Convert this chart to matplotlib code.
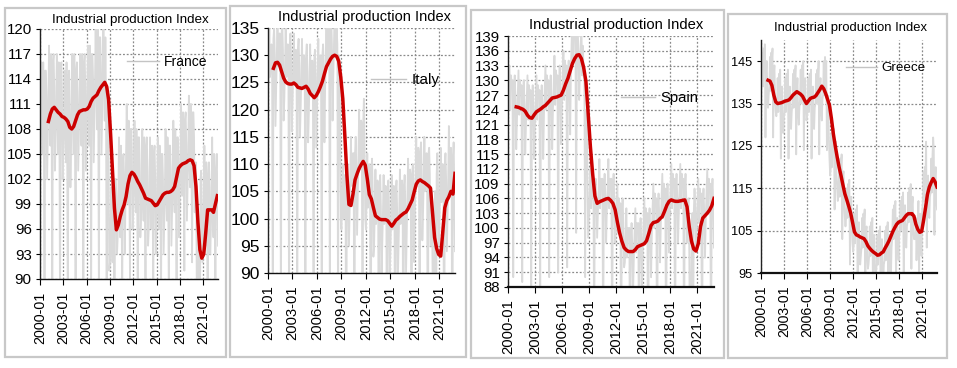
import numpy as np
import matplotlib
matplotlib.use("Agg")
import matplotlib.pyplot as plt
from matplotlib.patches import Rectangle
from matplotlib.lines import Line2D

plt.rcParams['font.family'] = ['Liberation Sans', 'DejaVu Sans']

# ---------------- DATA ----------------
months = [f"{y}-{m:02d}" for y in range(2000, 2023) for m in range(1, 13)]
x_labels = ["2000-01", "2003-01", "2006-01", "2009-01", "2012-01", "2015-01", "2018-01", "2021-01"]
title_text = "Industrial production Index"
countries = ["France", "Italy", "Spain", "Greece"]

france_raw = [
    106,110,116,109,105,116,108,84,115,115,112,102,
    107,112,118,110,106,117,109,85,116,117,113,103,
    106,111,117,109,105,116,108,84,115,116,112,102,
    105,109,115,108,104,116,107,83,114,115,111,101,
    106,110,117,110,105,117,109,84,115,116,112,103,
    107,111,117,110,106,117,109,85,116,117,113,103,
    107,112,118,111,106,118,110,86,117,117,114,104,
    109,114,120,113,108,120,111,87,119,119,116,105,
    110,115,121,113,109,119,111,86,113,110,104,91,
    92,95,101,95,92,100,96,75,102,102,100,93,
    95,99,107,98,95,106,100,87,104,105,102,93,
    99,104,111,102,99,109,103,90,108,108,105,96,
    98,103,109,101,98,108,102,89,107,107,104,95,
    97,101,108,100,97,107,101,88,106,107,103,94,
    96,100,107,99,96,106,100,88,105,106,102,93,
    96,100,107,99,96,106,100,87,105,105,102,93,
    97,101,108,100,97,107,101,88,106,106,103,94,
    98,102,109,101,98,108,102,89,107,107,104,95,
    100,104,111,103,100,110,104,91,109,110,106,97,
    101,105,112,104,101,111,105,92,110,110,107,98,
    101,104,92,70,80,95,96,80,102,103,99,92,
    95,98,106,97,94,104,99,86,102,104,101,93,
    96,99,107,98,95,105,100,87,103,105,101,94,
]
france_trend_start = "2001-02"
france_trend = [
    108.9,109.8,110.4,110.6,110.3,110.0,109.8,109.5,109.4,109.2,108.9,108.2,
    108.0,108.3,109.0,109.7,110.1,110.2,110.3,110.3,110.4,110.7,111.3,111.7,
    111.9,112.1,112.6,113.0,113.3,113.6,113.1,111.5,107.5,103.0,98.5,95.9,
    96.5,97.5,98.3,98.9,99.9,101.4,102.4,102.8,102.6,102.2,101.7,101.3,
    100.8,100.3,99.7,99.6,99.5,99.4,99.1,98.8,98.9,99.3,99.7,100.1,
    100.3,100.4,100.4,100.5,100.7,101.1,102.2,103.3,103.6,103.8,103.9,104.0,
    104.2,104.3,104.2,103.6,101.1,96.8,93.5,92.5,93.0,95.5,98.3,98.3,
    98.3,98.0,99.0,100.0,
]

italy_raw = [
    122,128,135,126,128,132,131,77,133,135,130,117,
    124,130,137,128,130,134,132,78,134,136,131,118,
    122,128,135,126,128,132,130,76,132,134,129,116,
    121,127,134,125,127,131,129,75,131,133,128,115,
    120,126,133,124,126,130,128,74,130,132,127,114,
    119,125,132,123,125,129,127,73,129,131,126,113,
    120,126,133,124,126,130,128,74,130,132,127,114,
    124,130,138,128,130,135,133,78,135,137,132,118,
    126,132,139,130,131,135,132,79,130,128,118,100,
    98,103,110,100,103,108,108,60,108,110,106,95,
    101,108,115,106,108,112,112,60,112,115,109,97,
    104,111,120,109,112,118,117,62,117,122,113,100,
    98,104,112,102,104,110,108,58,109,111,105,93,
    95,101,109,99,101,107,105,55,106,108,102,90,
    95,101,108,99,101,106,105,55,105,107,102,90,
    94,100,108,98,100,106,104,54,105,107,101,89,
    95,101,109,99,101,107,105,55,106,108,102,90,
    97,104,111,102,104,109,107,56,108,110,105,92,
    101,108,115,106,108,113,111,58,112,114,109,96,
    101,107,115,105,107,112,110,58,112,113,108,95,
    100,105,90,60,85,100,105,55,108,112,106,95,
    98,105,113,103,104,110,108,57,110,112,107,94,
    101,107,117,105,107,113,110,58,111,114,106,94,
]
italy_trend_start = "2000-09"
italy_trend = [
    127.6,128.6,128.7,128.2,127.0,125.8,125.1,124.8,124.7,124.7,124.9,124.6,
    124.1,124.0,123.9,124.1,124.3,123.8,123.0,122.6,122.2,122.6,123.3,124.2,
    125.2,126.6,127.9,128.6,129.3,129.8,130.0,129.8,128.9,126.0,122.0,115.2,
    108.0,102.6,102.4,104.5,107.1,108.2,109.2,109.9,110.5,109.8,107.3,104.4,
    103.6,102.0,100.5,100.2,99.9,99.8,99.8,99.8,99.6,99.1,98.6,99.1,
    99.7,100.0,100.4,100.7,101.0,101.2,101.8,102.6,103.4,104.9,106.3,106.9,
    107.1,106.8,106.6,106.3,106.0,105.6,101.0,96.5,94.5,93.4,93.1,97.5,
    102.0,103.3,104.0,105.0,104.5,108.3,
]

spain_raw = [
    123,128,133,124,131,129,130,90,128,131,126,116,
    122,127,132,123,130,128,129,89,127,130,125,115,
    121,126,131,122,129,127,128,88,126,129,124,114,
    121,126,131,122,129,127,128,88,126,129,124,114,
    123,128,133,124,131,129,130,90,128,131,126,116,
    124,129,135,125,132,130,131,91,129,133,127,117,
    125,131,136,126,134,132,133,92,131,134,129,119,
    132,138,143,134,141,139,140,99,138,141,136,126,
    132,137,141,131,137,131,130,90,124,123,112,98,
    102,106,112,104,108,110,110,76,108,110,106,98,
    103,108,114,104,110,109,110,74,108,111,106,97,
    104,108,114,104,110,109,110,74,108,111,106,97,
    99,104,109,99,106,104,105,68,103,106,101,92,
    93,98,104,94,100,99,100,62,98,101,96,87,
    94,99,104,95,101,100,101,63,99,102,97,88,
    96,101,106,97,104,102,103,65,101,104,99,90,
    99,104,109,100,107,105,106,67,104,107,102,93,
    101,106,111,102,109,107,108,69,106,109,104,95,
    103,108,113,104,111,109,110,71,108,111,106,97,
    103,108,113,104,111,109,110,71,108,111,106,97,
    103,106,95,72,82,95,103,70,103,108,104,96,
    100,105,110,101,108,106,107,68,105,108,103,94,
    102,107,112,103,110,108,109,70,107,110,105,96,
]
spain_trend_start = "2000-12"
spain_trend = [
    124.6,124.5,124.3,124.1,123.7,122.9,122.4,122.3,123.0,123.6,123.9,124.2,
    124.6,124.9,125.4,125.9,126.4,126.5,126.6,126.8,127.0,128.0,129.3,130.4,
    131.9,133.4,134.4,135.1,135.2,134.4,132.6,129.8,123.3,116.5,111.0,106.5,
    105.0,105.3,105.5,105.7,105.9,106.0,105.6,105.0,103.7,101.2,99.0,97.3,
    96.0,95.5,95.2,95.2,95.2,95.6,96.2,96.4,96.6,96.8,97.4,98.9,
    100.5,101.1,101.2,101.4,101.9,102.3,103.4,104.6,105.4,105.7,105.5,105.4,
    105.4,105.5,105.6,105.7,104.3,100.2,97.3,95.7,95.3,96.8,100.3,102.0,
    102.5,103.0,103.6,104.5,106.0,
]

greece_raw = [
    138,140,147,139,148,145,149,127,143,145,137,134,
    137,139,146,138,147,145,148,127,142,144,136,133,
    132,134,141,133,142,140,143,122,137,139,131,128,
    132,133,141,133,142,139,143,122,137,139,131,129,
    133,135,142,134,143,141,144,123,138,141,133,130,
    134,136,143,135,144,142,145,124,139,141,134,131,
    132,134,141,133,142,140,143,122,137,139,131,129,
    134,135,142,135,143,141,145,123,139,141,133,131,
    136,137,145,137,146,143,145,124,137,136,127,122,
    118,120,128,120,129,126,129,110,124,126,118,115,
    112,114,121,113,122,120,123,103,118,119,111,108,
    106,108,115,108,116,114,117,97,112,113,106,102,
    100,102,109,102,110,108,111,91,106,107,100,97,
    99,101,108,101,109,107,110,90,105,106,99,96,
    97,99,106,99,107,105,108,88,103,104,97,94,
    96,97,104,97,105,103,106,87,101,103,95,93,
    97,98,105,98,106,104,107,88,102,104,96,94,
    101,103,110,103,111,109,112,92,107,108,101,98,
    104,105,112,105,113,111,114,94,109,111,103,101,
    106,107,114,107,115,113,116,96,111,113,105,103,
    103,104,108,98,104,107,112,92,107,109,101,99,
    110,112,119,112,120,118,126,101,116,118,110,108,
    113,114,122,114,123,127,124,104,118,120,112,110,
]
greece_trend_start = "2000-12"
greece_trend = [
    140.5,140.3,139.3,137.0,135.4,135.0,135.1,135.2,135.4,135.6,135.7,135.9,
    136.4,137.0,137.4,137.8,137.5,137.2,136.7,135.8,135.0,135.6,136.2,136.4,
    136.5,136.9,137.6,138.3,139.1,138.5,137.4,136.0,134.6,131.5,127.9,125.0,
    122.4,120.0,118.0,115.8,113.7,112.3,110.8,109.2,107.0,104.7,104.0,103.8,
    103.5,103.3,103.1,102.4,101.4,100.8,100.3,99.9,99.6,99.2,99.3,99.7,
    100.0,100.9,101.7,102.6,103.7,104.8,105.7,106.5,107.0,107.2,107.4,108.0,
    108.6,109.0,109.0,109.0,108.4,106.5,105.3,104.6,104.8,107.4,110.3,113.5,
    115.3,116.4,117.3,116.5,115.3,
]

y_ticks = {
    "France": list(range(90, 121, 3)),
    "Italy": list(range(90, 136, 5)),
    "Spain": list(range(88, 140, 3)),
    "Greece": list(range(95, 146, 10)),
}
y_limits = {"France": (90, 120), "Italy": (90, 135), "Spain": (88, 139), "Greece": (95, 150)}

raw_data = {"France": france_raw, "Italy": italy_raw, "Spain": spain_raw, "Greece": greece_raw}
trend_data = {"France": (france_trend_start, france_trend), "Italy": (italy_trend_start, italy_trend),
              "Spain": (spain_trend_start, spain_trend), "Greece": (greece_trend_start, greece_trend)}

# ---------------- LAYOUT (pixels) ----------------
W, H = 957, 368
layout = {
    "France": dict(ax=(40, 29, 218, 279), box=(5, 8, 226, 357), title=(130, 20, 9.6), ysz=10.8,
                   leg=(127, 62, 10.0), xsz=10.3),
    "Italy": dict(ax=(268, 28, 455, 273), box=(230, 6, 466, 357), title=(365, 17, 10.5), ysz=12.5,
                  leg=(371, 80, 11.0), xsz=10.6),
    "Spain": dict(ax=(508, 36, 714, 287), box=(471, 10, 724, 358), title=(616, 25, 10.6), ysz=10.8,
                  leg=(621, 98, 10.7), xsz=10.6),
    "Greece": dict(ax=(761, 40, 937, 273), box=(728, 14, 947, 358), title=(850, 28, 9.4), ysz=9.2,
                   leg=(846, 68, 9.6), xsz=10.2),
}

GRAY = "#dadada"
RED = "#cc0000"

fig = plt.figure(figsize=(W / 100, H / 100), dpi=100)
fig.patch.set_facecolor("white")

def frac_rect(l, t, r, b):
    return [l / W, 1 - b / H, (r - l) / W, (b - t) / H]

x_all = np.arange(len(months))
tick_pos = [months.index(lbl) for lbl in x_labels]

for c in countries:
    L = layout[c]
    bl, bt, br, bb = L["box"]
    fig.patches.append(Rectangle((bl / W, 1 - bb / H), (br - bl) / W, (bb - bt) / H,
                                 transform=fig.transFigure, facecolor="none",
                                 edgecolor="#c8c8c8", lw=1.6, zorder=-5))
    ax = fig.add_axes(frac_rect(*L["ax"]))
    ax.set_facecolor("none")
    ax.set_axisbelow(True)

    raw = np.array(raw_data[c], dtype=float)
    ax.plot(x_all, raw, color=GRAY, lw=1.3, zorder=2, label=c)
    start, tr = trend_data[c]
    s = months.index(start)
    xt = s + 3 * np.arange(len(tr))
    ax.plot(xt, tr, color=RED, lw=2.5, zorder=3, solid_joinstyle="round")

    ax.set_xlim(0, len(months) - 1)
    ax.set_ylim(*y_limits[c])
    ax.set_yticks(y_ticks[c])
    ax.set_yticklabels([str(v) for v in y_ticks[c]], fontsize=L["ysz"])
    ax.set_xticks(tick_pos)
    ax.set_xticklabels(x_labels, rotation=90, fontsize=L["xsz"])
    ax.tick_params(axis="y", direction="out", length=3, width=0.8, pad=3, colors="black")
    ax.tick_params(axis="x", direction="out", length=4, width=0.8, pad=5, colors="black")
    ax.grid(True, color="#8a8a8a", lw=0.9, linestyle=(0, (1.5, 1.5)))
    for sp in ["top", "right"]:
        ax.spines[sp].set_visible(False)
    ax.spines["left"].set_color("#222222")
    ax.spines["left"].set_linewidth(1.0)
    ax.spines["bottom"].set_color("#111111")
    ax.spines["bottom"].set_linewidth(1.6 if c in ("Spain", "Greece") else 1.0)

    tx, ty, tsz = L["title"]
    fig.text(tx / W, 1 - ty / H, title_text, ha="center", va="center", fontsize=tsz)

    lx, ly, lsz = L["leg"]
    handle = Line2D([], [], color="#c4c4c4", lw=1.0)
    ax.legend([handle], [c], loc="center left", bbox_to_anchor=(lx / W, 1 - ly / H),
              bbox_transform=fig.transFigure, frameon=False, borderpad=0, borderaxespad=0,
              handlelength=2.3, handletextpad=0.35, fontsize=lsz)

fig.savefig("out.png", dpi=100, facecolor="white")
